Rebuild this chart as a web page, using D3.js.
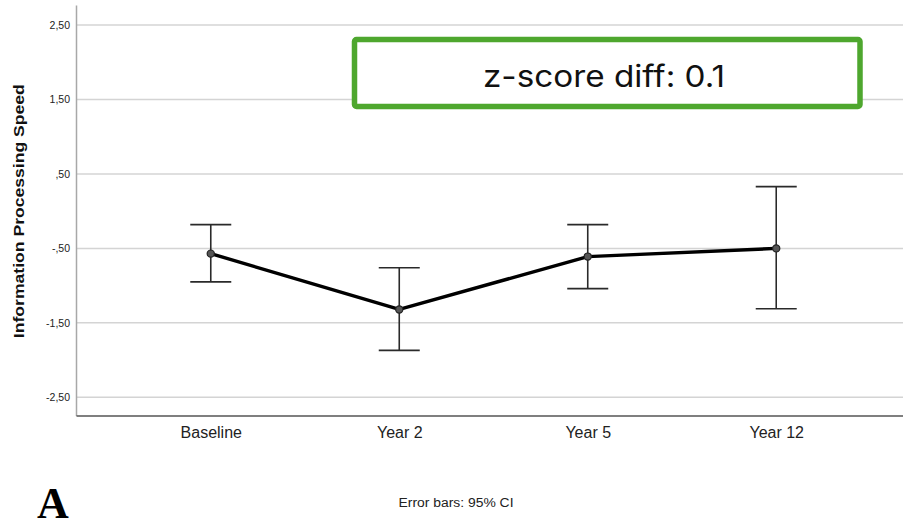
<!DOCTYPE html>
<html>
<head>
<meta charset="utf-8">
<script src="https://cdn.jsdelivr.net/npm/d3@7"></script>
<style>
  html, body { margin: 0; padding: 0; background: #fff; }
  svg { display: block; }
</style>
</head>
<body>
<svg id="chart" width="903" height="519"></svg>
<script>
// Measurement occasions
const categories = ["Baseline", "Year 2", "Year 5", "Year 12"];
// Mean z-scores and 95% confidence limits per occasion
const means = [-0.57, -1.32, -0.61, -0.50];
const ciLower = [-0.95, -1.87, -1.04, -1.31];
const ciUpper = [-0.18, -0.76, -0.18, 0.33];
// Y axis ticks
const yTicks = [-2.5, -1.5, -0.5, 0.5, 1.5, 2.5];
const yTitle = "Information Processing Speed";
const footnote = "Error bars: 95% CI";
const panelLetter = "A";
const annotation = "z-score diff: 0.1";

const svg = d3.select("#chart");
const plot = { left: 76, right: 911, top: 5, bottom: 415.5 };

const x = d3.scalePoint()
  .domain(categories)
  .range([plot.left, plot.right])
  .padding(0.715);

const y = d3.scaleLinear()
  .domain([-2.745, 2.77])
  .range([plot.bottom, plot.top]);

// SPSS-style decimal comma, leading zero dropped
const fmt = v => {
  let s = d3.format(".2f")(v).replace("−", "-").replace(".", ",");
  return s.replace(/^0,/, ",").replace(/^-0,/, "-,");
};

// Horizontal gridlines
svg.append("g")
  .selectAll("line")
  .data(yTicks)
  .join("line")
  .attr("x1", plot.left)
  .attr("x2", plot.right)
  .attr("y1", d => y(d))
  .attr("y2", d => y(d))
  .attr("stroke", "#d4d4d4")
  .attr("stroke-width", 1.5);

// Y axis
const yAxis = svg.append("g")
  .attr("transform", `translate(${plot.left},0)`)
  .call(d3.axisLeft(y).tickValues(yTicks).tickFormat(fmt).tickSize(0).tickPadding(6));
yAxis.select(".domain").attr("stroke", "#a8a8a8").attr("stroke-width", 1.5);
yAxis.selectAll("text")
  .attr("font-family", "Liberation Sans, Arial, sans-serif")
  .attr("font-size", 10.5)
  .attr("fill", "#222");

// X axis
const xAxis = svg.append("g")
  .attr("transform", `translate(0,${plot.bottom})`)
  .call(d3.axisBottom(x).tickSize(0).tickPadding(11));
xAxis.select(".domain").attr("stroke", "#555").attr("stroke-width", 1.5);
xAxis.selectAll("text")
  .attr("font-family", "Liberation Sans, Arial, sans-serif")
  .attr("font-size", 16)
  .attr("fill", "#222");

// Y axis title
svg.append("text")
  .attr("transform", `translate(23.5,${(y(2.5) + y(-2.5)) / 2}) rotate(-90)`)
  .attr("text-anchor", "middle")
  .attr("font-family", "Liberation Sans, Arial, sans-serif")
  .attr("font-weight", "bold")
  .attr("font-size", 15)
  .attr("textLength", 254)
  .attr("lengthAdjust", "spacingAndGlyphs")
  .attr("fill", "#111")
  .text(yTitle);

const rows = categories.map((c, i) => ({ c, m: means[i], lo: ciLower[i], hi: ciUpper[i] }));

// Error bars
const eb = svg.append("g").attr("stroke", "#2a2a2a").attr("stroke-width", 1.6);
const capHalf = 20.5;
eb.selectAll("line.stem")
  .data(rows)
  .join("line")
  .attr("class", "stem")
  .attr("x1", d => x(d.c)).attr("x2", d => x(d.c))
  .attr("y1", d => y(d.lo)).attr("y2", d => y(d.hi));
eb.selectAll("line.capHi")
  .data(rows)
  .join("line")
  .attr("class", "capHi")
  .attr("x1", d => x(d.c) - capHalf).attr("x2", d => x(d.c) + capHalf)
  .attr("y1", d => y(d.hi)).attr("y2", d => y(d.hi));
eb.selectAll("line.capLo")
  .data(rows)
  .join("line")
  .attr("class", "capLo")
  .attr("x1", d => x(d.c) - capHalf).attr("x2", d => x(d.c) + capHalf)
  .attr("y1", d => y(d.lo)).attr("y2", d => y(d.lo));

// Mean line
svg.append("path")
  .datum(rows)
  .attr("fill", "none")
  .attr("stroke", "#000")
  .attr("stroke-width", 3.4)
  .attr("stroke-linejoin", "round")
  .attr("d", d3.line().x(d => x(d.c)).y(d => y(d.m)));

// Mean markers
svg.append("g")
  .selectAll("circle")
  .data(rows)
  .join("circle")
  .attr("cx", d => x(d.c))
  .attr("cy", d => y(d.m))
  .attr("r", 3.6)
  .attr("fill", "#555")
  .attr("stroke", "#222")
  .attr("stroke-width", 1.2);

// Annotation box
svg.append("rect")
  .attr("x", 354.5).attr("y", 39.5)
  .attr("width", 505.5).attr("height", 67)
  .attr("rx", 2)
  .attr("fill", "#fff")
  .attr("stroke", "#4ea72e")
  .attr("stroke-width", 5.5);
svg.append("text")
  .attr("x", 604).attr("y", 87)
  .attr("text-anchor", "middle")
  .attr("font-family", "Inter, 'Open Sans', sans-serif")
  .attr("font-size", 30)
  .attr("textLength", 242)
  .attr("lengthAdjust", "spacingAndGlyphs")
  .attr("fill", "#111")
  .text(annotation);

// Footnote
svg.append("text")
  .attr("x", 456).attr("y", 507)
  .attr("text-anchor", "middle")
  .attr("font-family", "Liberation Sans, Arial, sans-serif")
  .attr("font-size", 12.5)
  .attr("textLength", 115)
  .attr("lengthAdjust", "spacingAndGlyphs")
  .attr("fill", "#222")
  .text(footnote);

// Panel letter
svg.append("text")
  .attr("x", 37).attr("y", 518)
  .style("font-family", "'Liberation Serif', 'DejaVu Serif', serif")
  .attr("font-weight", "bold")
  .attr("font-size", 44)
  .attr("fill", "#000")
  .text(panelLetter);
</script>
</body>
</html>
